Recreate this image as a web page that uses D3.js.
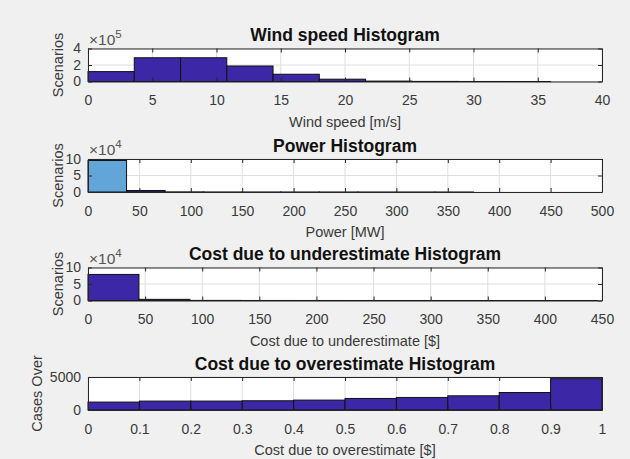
<!DOCTYPE html>
<html>
<head>
<meta charset="utf-8">
<script src="https://cdn.jsdelivr.net/npm/d3@7"></script>
<style>
  body { margin: 0; background: #f0f0f0; }
  text { font-family: "Liberation Sans", Arial, sans-serif; }
</style>
</head>
<body>
<div id="chart"></div>
<script>
// histogram data
var windEdges = [0, 3.6, 7.2, 10.8, 14.4, 18, 21.6, 25.2, 28.8, 32.4, 36];
var windCounts = [1.2, 2.88, 2.88, 1.88, 0.88, 0.28, 0.05, 0.012, 0.004, 0.001]; // x1e5

var powerEdges = [0, 37.5, 75, 112.5, 150, 187.5, 225, 262.5, 300, 337.5, 375];
var powerCounts = [9.55, 0.45, 0.03, 0.01, 0.005, 0.002, 0.001, 0.001, 0.001, 0.001]; // x1e4

var underEdges = [0, 44.6, 89.2, 133.8, 178.4, 223, 267.6, 312.2, 356.8, 401.4, 446];
var underCounts = [7.9, 0.35, 0.03, 0.01, 0.005, 0.003, 0.002, 0.001, 0.001, 0.001]; // x1e4

var overEdges = [0, 0.1, 0.2, 0.3, 0.4, 0.5, 0.6, 0.7, 0.8, 0.9, 1];
var overCounts = [1200, 1350, 1350, 1400, 1500, 1750, 1900, 2150, 2650, 4750];

var windXTicks = [0, 5, 10, 15, 20, 25, 30, 35, 40];
var powerXTicks = [0, 50, 100, 150, 200, 250, 300, 350, 400, 450, 500];
var underXTicks = [0, 50, 100, 150, 200, 250, 300, 350, 400, 450];
var overXTicks = [0, 0.1, 0.2, 0.3, 0.4, 0.5, 0.6, 0.7, 0.8, 0.9, 1];

var panels = [
  {title: "Wind speed Histogram", xlabel: "Wind speed [m/s]", ylabel: "Scenarios",
   edges: windEdges, counts: windCounts, xmax: 40, xticks: windXTicks,
   ymax: 4, yticks: [0, 2, 4], exp: "5", top: 48.5},
  {title: "Power Histogram", xlabel: "Power [MW]", ylabel: "Scenarios",
   edges: powerEdges, counts: powerCounts, xmax: 500, xticks: powerXTicks,
   ymax: 10, yticks: [0, 5, 10], exp: "4", top: 159, firstColor: "#62a6d9"},
  {title: "Cost due to underestimate Histogram", xlabel: "Cost due to underestimate [$]", ylabel: "Scenarios",
   edges: underEdges, counts: underCounts, xmax: 450, xticks: underXTicks,
   ymax: 10, yticks: [0, 5, 10], exp: "4", top: 267.5},
  {title: "Cost due to overestimate Histogram", xlabel: "Cost due to overestimate [$]", ylabel: "Cases Over",
   edges: overEdges, counts: overCounts, xmax: 1, xticks: overXTicks,
   ymax: 5000, yticks: [0, 5000], exp: null, top: 377}
];

var W = 630, H = 459;
var left = 88, right = 602, ph = 33;
var barColor = "#3c28a6";
var axisColor = "#262626";
var textColor = "#3a3a3a";
var fs = "14px";

var svg = d3.select("#chart").append("svg")
    .attr("width", W)
    .attr("height", H);

svg.append("rect").attr("width", W).attr("height", H).attr("fill", "#f0f0f0");

panels.forEach(function(p) {
  var x = d3.scaleLinear().domain([0, p.xmax]).range([left, right]);
  var y = d3.scaleLinear().domain([0, p.ymax]).range([p.top + ph, p.top]);
  var g = svg.append("g");

  g.append("rect")
    .attr("x", left).attr("y", p.top)
    .attr("width", right - left).attr("height", ph)
    .attr("fill", "white");

  // grid
  g.selectAll(".vg").data(p.xticks).enter().append("line")
    .attr("x1", function(d) { return x(d); }).attr("x2", function(d) { return x(d); })
    .attr("y1", p.top).attr("y2", p.top + ph)
    .attr("stroke", "#dedede").attr("stroke-width", 1);
  g.selectAll(".hg").data(p.yticks).enter().append("line")
    .attr("x1", left).attr("x2", right)
    .attr("y1", function(d) { return y(d); }).attr("y2", function(d) { return y(d); })
    .attr("stroke", "#dedede").attr("stroke-width", 1);

  // bars
  var bins = p.counts.map(function(c, i) { return {x0: p.edges[i], x1: p.edges[i + 1], c: c, i: i}; });
  g.selectAll(".bar").data(bins).enter().append("rect")
    .attr("x", function(d) { return x(d.x0); })
    .attr("width", function(d) { return x(d.x1) - x(d.x0); })
    .attr("y", function(d) { return y(d.c); })
    .attr("height", function(d) { return y(0) - y(d.c); })
    .attr("fill", function(d) { return (d.i == 0 && p.firstColor) ? p.firstColor : barColor; })
    .attr("stroke", "#111")
    .attr("stroke-width", 1);

  // axes with inward ticks
  var xb = d3.axisBottom(x).tickValues(p.xticks).tickSizeInner(-4).tickSizeOuter(0)
    .tickPadding(14).tickFormat(d3.format("~g"));
  var xt = d3.axisTop(x).tickValues(p.xticks).tickSizeInner(-4).tickSizeOuter(0).tickFormat("");
  var yl = d3.axisLeft(y).tickValues(p.yticks).tickSizeInner(-4).tickSizeOuter(0)
    .tickPadding(7).tickFormat(d3.format("~g"));
  var yr = d3.axisRight(y).tickValues(p.yticks).tickSizeInner(-4).tickSizeOuter(0).tickFormat("");

  var ax = [
    g.append("g").attr("transform", "translate(0," + (p.top + ph) + ")").call(xb),
    g.append("g").attr("transform", "translate(0," + p.top + ")").call(xt),
    g.append("g").attr("transform", "translate(" + left + ",0)").call(yl),
    g.append("g").attr("transform", "translate(" + right + ",0)").call(yr)
  ];
  ax.forEach(function(a) {
    a.select(".domain").attr("stroke", axisColor).attr("stroke-width", 1);
    a.selectAll(".tick line").attr("stroke", axisColor);
    a.selectAll(".tick text").attr("fill", textColor)
      .style("font-size", fs).style("font-family", "'Liberation Sans', Arial, sans-serif");
  });

  // title
  g.append("text")
    .attr("x", (left + right) / 2).attr("y", p.top - 7.5)
    .attr("text-anchor", "middle")
    .attr("fill", "#111")
    .style("font-size", "17.5px").style("font-weight", "bold")
    .text(p.title);

  // x label
  g.append("text")
    .attr("x", (left + right) / 2).attr("y", p.top + ph + 45)
    .attr("text-anchor", "middle")
    .attr("fill", textColor)
    .style("font-size", "14.5px")
    .text(p.xlabel);

  // y label
  var ylx = p.exp ? 63 : 42;
  g.append("text")
    .attr("transform", "translate(" + ylx + "," + (p.top + ph / 2) + ") rotate(-90)")
    .attr("text-anchor", "middle")
    .attr("fill", textColor)
    .style("font-size", "14.5px")
    .text(p.ylabel);

  // exponent
  if (p.exp) {
    var e = g.append("text")
      .attr("x", left + 1).attr("y", p.top - 4)
      .attr("fill", "#555")
      .style("font-size", "15.5px");
    e.append("tspan").text("\u00d710");
    e.append("tspan").attr("dy", -7).style("font-size", "11.5px").text(p.exp);
  }
});
</script>
</body>
</html>
